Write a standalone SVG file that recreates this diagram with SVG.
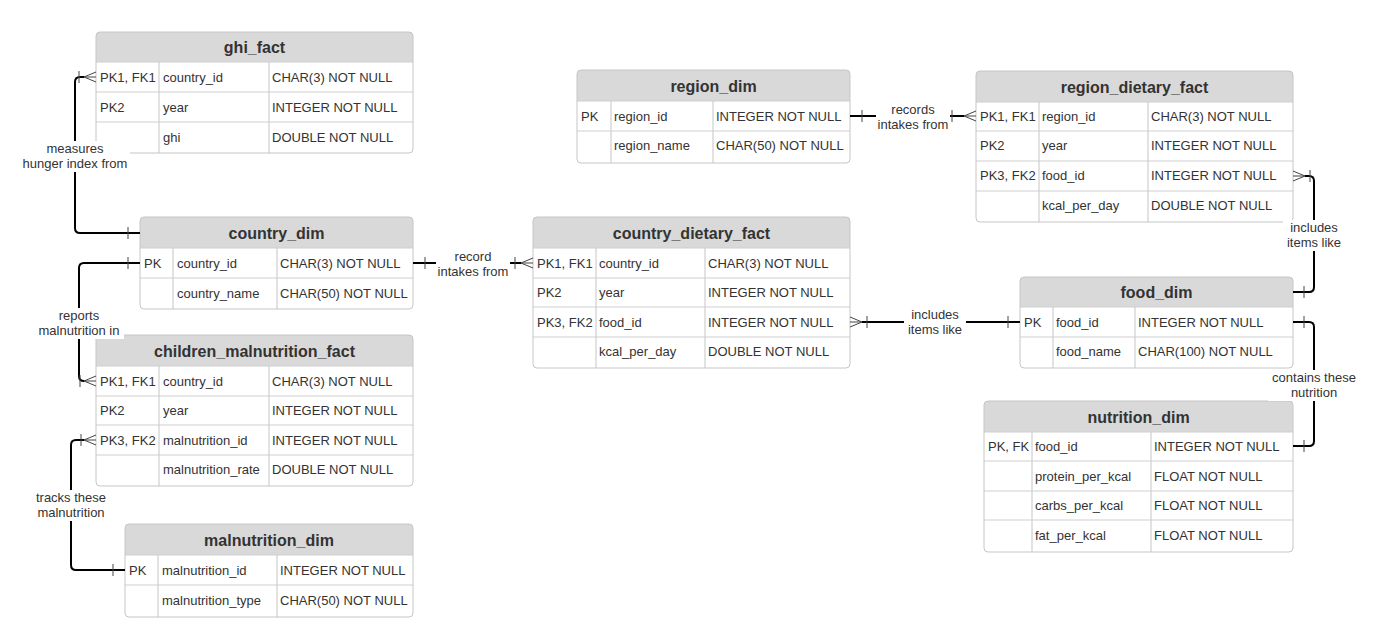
<svg xmlns="http://www.w3.org/2000/svg" width="1398" height="633" viewBox="0 0 1398 633">
<style>
.box{fill:#ffffff;stroke:none}
.hd{fill:#d9d9d9;stroke:none}
.bd{fill:none;stroke:#c6c6c6;stroke-width:1}
.ln{stroke:#cfcfcf;stroke-width:1.2}
.t{font-family:"Liberation Sans",Arial,sans-serif;font-size:13px;fill:#333333}
.h{font-family:"Liberation Sans",Arial,sans-serif;font-size:16px;font-weight:bold;fill:#333333;text-anchor:middle}
.c{fill:none;stroke:#000000;stroke-width:2}
.m{fill:none;stroke:#444444;stroke-width:1}
.lb{font-family:"Liberation Sans",Arial,sans-serif;font-size:13px;fill:#333333;text-anchor:middle}
.lbg{fill:#ffffff;stroke:none}
</style>
<rect x="0" y="0" width="1398" height="633" fill="#ffffff"/>

<!-- ghi_fact -->
<g id="ghi_fact">
  <rect class="box" x="96" y="32" width="317" height="121" rx="4"/>
  <path class="hd" d="M96,62 V36 Q96,32 100,32 H409 Q413,32 413,36 V62 Z"/>
  <line class="ln" x1="96" y1="62" x2="413" y2="62"/>
  <line class="ln" x1="96" y1="92" x2="413" y2="92"/>
  <line class="ln" x1="96" y1="122" x2="413" y2="122"/>
  <line class="ln" x1="159" y1="62" x2="159" y2="153"/>
  <line class="ln" x1="269" y1="62" x2="269" y2="153"/>
  <rect class="bd" x="96" y="32" width="317" height="121" rx="4"/>
  <text class="h" x="254.5" y="53">ghi_fact</text>
  <text class="t" x="100" y="82">PK1, FK1</text><text class="t" x="163" y="82">country_id</text><text class="t" x="272" y="82">CHAR(3) NOT NULL</text>
  <text class="t" x="100" y="112">PK2</text><text class="t" x="163" y="112">year</text><text class="t" x="272" y="112">INTEGER NOT NULL</text>
  <text class="t" x="163" y="142">ghi</text><text class="t" x="272" y="142">DOUBLE NOT NULL</text>
</g>

<!-- country_dim -->
<g id="country_dim">
  <rect class="box" x="140" y="217" width="273" height="92" rx="4"/>
  <path class="hd" d="M140,248 V221 Q140,217 144,217 H409 Q413,217 413,221 V248 Z"/>
  <line class="ln" x1="140" y1="248" x2="413" y2="248"/>
  <line class="ln" x1="140" y1="278" x2="413" y2="278"/>
  <line class="ln" x1="173" y1="248" x2="173" y2="309"/>
  <line class="ln" x1="277" y1="248" x2="277" y2="309"/>
  <rect class="bd" x="140" y="217" width="273" height="92" rx="4"/>
  <text class="h" x="276.5" y="239">country_dim</text>
  <text class="t" x="144" y="268">PK</text><text class="t" x="177" y="268">country_id</text><text class="t" x="280" y="268">CHAR(3) NOT NULL</text>
  <text class="t" x="177" y="298">country_name</text><text class="t" x="280" y="298">CHAR(50) NOT NULL</text>
</g>

<!-- children_malnutrition_fact -->
<g id="children_malnutrition_fact">
  <rect class="box" x="96" y="335" width="317" height="151" rx="4"/>
  <path class="hd" d="M96,366 V339 Q96,335 100,335 H409 Q413,335 413,339 V366 Z"/>
  <line class="ln" x1="96" y1="366" x2="413" y2="366"/>
  <line class="ln" x1="96" y1="396" x2="413" y2="396"/>
  <line class="ln" x1="96" y1="425" x2="413" y2="425"/>
  <line class="ln" x1="96" y1="455" x2="413" y2="455"/>
  <line class="ln" x1="159" y1="366" x2="159" y2="486"/>
  <line class="ln" x1="269" y1="366" x2="269" y2="486"/>
  <rect class="bd" x="96" y="335" width="317" height="151" rx="4"/>
  <text class="h" x="254.5" y="357">children_malnutrition_fact</text>
  <text class="t" x="100" y="386">PK1, FK1</text><text class="t" x="163" y="386">country_id</text><text class="t" x="272" y="386">CHAR(3) NOT NULL</text>
  <text class="t" x="100" y="415">PK2</text><text class="t" x="163" y="415">year</text><text class="t" x="272" y="415">INTEGER NOT NULL</text>
  <text class="t" x="100" y="445">PK3, FK2</text><text class="t" x="163" y="445">malnutrition_id</text><text class="t" x="272" y="445">INTEGER NOT NULL</text>
  <text class="t" x="163" y="474">malnutrition_rate</text><text class="t" x="272" y="474">DOUBLE NOT NULL</text>
</g>

<!-- malnutrition_dim -->
<g id="malnutrition_dim">
  <rect class="box" x="125" y="524" width="288" height="93" rx="4"/>
  <path class="hd" d="M125,555 V528 Q125,524 129,524 H409 Q413,524 413,528 V555 Z"/>
  <line class="ln" x1="125" y1="555" x2="413" y2="555"/>
  <line class="ln" x1="125" y1="585" x2="413" y2="585"/>
  <line class="ln" x1="158" y1="555" x2="158" y2="617"/>
  <line class="ln" x1="277" y1="555" x2="277" y2="617"/>
  <rect class="bd" x="125" y="524" width="288" height="93" rx="4"/>
  <text class="h" x="269" y="546">malnutrition_dim</text>
  <text class="t" x="129" y="575">PK</text><text class="t" x="162" y="575">malnutrition_id</text><text class="t" x="280" y="575">INTEGER NOT NULL</text>
  <text class="t" x="162" y="605">malnutrition_type</text><text class="t" x="280" y="605">CHAR(50) NOT NULL</text>
</g>

<!-- country_dietary_fact -->
<g id="country_dietary_fact">
  <rect class="box" x="533" y="217" width="317" height="151" rx="4"/>
  <path class="hd" d="M533,248 V221 Q533,217 537,217 H846 Q850,217 850,221 V248 Z"/>
  <line class="ln" x1="533" y1="248" x2="850" y2="248"/>
  <line class="ln" x1="533" y1="278" x2="850" y2="278"/>
  <line class="ln" x1="533" y1="307" x2="850" y2="307"/>
  <line class="ln" x1="533" y1="337" x2="850" y2="337"/>
  <line class="ln" x1="596" y1="248" x2="596" y2="368"/>
  <line class="ln" x1="705" y1="248" x2="705" y2="368"/>
  <rect class="bd" x="533" y="217" width="317" height="151" rx="4"/>
  <text class="h" x="691.5" y="239">country_dietary_fact</text>
  <text class="t" x="537" y="268">PK1, FK1</text><text class="t" x="599" y="268">country_id</text><text class="t" x="708" y="268">CHAR(3) NOT NULL</text>
  <text class="t" x="537" y="297">PK2</text><text class="t" x="599" y="297">year</text><text class="t" x="708" y="297">INTEGER NOT NULL</text>
  <text class="t" x="537" y="327">PK3, FK2</text><text class="t" x="599" y="327">food_id</text><text class="t" x="708" y="327">INTEGER NOT NULL</text>
  <text class="t" x="599" y="356">kcal_per_day</text><text class="t" x="708" y="356">DOUBLE NOT NULL</text>
</g>

<!-- region_dim -->
<g id="region_dim">
  <rect class="box" x="577" y="70" width="273" height="93" rx="4"/>
  <path class="hd" d="M577,101 V74 Q577,70 581,70 H846 Q850,70 850,74 V101 Z"/>
  <line class="ln" x1="577" y1="101" x2="850" y2="101"/>
  <line class="ln" x1="577" y1="131" x2="850" y2="131"/>
  <line class="ln" x1="611" y1="101" x2="611" y2="163"/>
  <line class="ln" x1="713" y1="101" x2="713" y2="163"/>
  <rect class="bd" x="577" y="70" width="273" height="93" rx="4"/>
  <text class="h" x="713.5" y="92">region_dim</text>
  <text class="t" x="581" y="121">PK</text><text class="t" x="614" y="121">region_id</text><text class="t" x="716" y="121">INTEGER NOT NULL</text>
  <text class="t" x="614" y="150">region_name</text><text class="t" x="716" y="150">CHAR(50) NOT NULL</text>
</g>

<!-- region_dietary_fact -->
<g id="region_dietary_fact">
  <rect class="box" x="976" y="71" width="317" height="151" rx="4"/>
  <path class="hd" d="M976,102 V75 Q976,71 980,71 H1289 Q1293,71 1293,75 V102 Z"/>
  <line class="ln" x1="976" y1="102" x2="1293" y2="102"/>
  <line class="ln" x1="976" y1="131" x2="1293" y2="131"/>
  <line class="ln" x1="976" y1="161" x2="1293" y2="161"/>
  <line class="ln" x1="976" y1="191" x2="1293" y2="191"/>
  <line class="ln" x1="1039" y1="102" x2="1039" y2="222"/>
  <line class="ln" x1="1148" y1="102" x2="1148" y2="222"/>
  <rect class="bd" x="976" y="71" width="317" height="151" rx="4"/>
  <text class="h" x="1134.5" y="93">region_dietary_fact</text>
  <text class="t" x="980" y="121">PK1, FK1</text><text class="t" x="1042" y="121">region_id</text><text class="t" x="1151" y="121">CHAR(3) NOT NULL</text>
  <text class="t" x="980" y="150">PK2</text><text class="t" x="1042" y="150">year</text><text class="t" x="1151" y="150">INTEGER NOT NULL</text>
  <text class="t" x="980" y="180">PK3, FK2</text><text class="t" x="1042" y="180">food_id</text><text class="t" x="1151" y="180">INTEGER NOT NULL</text>
  <text class="t" x="1042" y="210">kcal_per_day</text><text class="t" x="1151" y="210">DOUBLE NOT NULL</text>
</g>

<!-- food_dim -->
<g id="food_dim">
  <rect class="box" x="1020" y="277" width="273" height="91" rx="4"/>
  <path class="hd" d="M1020,307 V281 Q1020,277 1024,277 H1289 Q1293,277 1293,281 V307 Z"/>
  <line class="ln" x1="1020" y1="307" x2="1293" y2="307"/>
  <line class="ln" x1="1020" y1="337" x2="1293" y2="337"/>
  <line class="ln" x1="1053" y1="307" x2="1053" y2="368"/>
  <line class="ln" x1="1135" y1="307" x2="1135" y2="368"/>
  <rect class="bd" x="1020" y="277" width="273" height="91" rx="4"/>
  <text class="h" x="1156.5" y="298">food_dim</text>
  <text class="t" x="1024" y="327">PK</text><text class="t" x="1056" y="327">food_id</text><text class="t" x="1138" y="327">INTEGER NOT NULL</text>
  <text class="t" x="1056" y="356">food_name</text><text class="t" x="1138" y="356">CHAR(100) NOT NULL</text>
</g>

<!-- nutrition_dim -->
<g id="nutrition_dim">
  <rect class="box" x="984" y="401" width="309" height="151" rx="4"/>
  <path class="hd" d="M984,432 V405 Q984,401 988,401 H1289 Q1293,401 1293,405 V432 Z"/>
  <line class="ln" x1="984" y1="432" x2="1293" y2="432"/>
  <line class="ln" x1="984" y1="461" x2="1293" y2="461"/>
  <line class="ln" x1="984" y1="491" x2="1293" y2="491"/>
  <line class="ln" x1="984" y1="520" x2="1293" y2="520"/>
  <line class="ln" x1="1032" y1="432" x2="1032" y2="552"/>
  <line class="ln" x1="1151" y1="432" x2="1151" y2="552"/>
  <rect class="bd" x="984" y="401" width="309" height="151" rx="4"/>
  <text class="h" x="1138.5" y="423">nutrition_dim</text>
  <text class="t" x="988" y="451">PK, FK</text><text class="t" x="1035" y="451">food_id</text><text class="t" x="1154" y="451">INTEGER NOT NULL</text>
  <text class="t" x="1035" y="481">protein_per_kcal</text><text class="t" x="1154" y="481">FLOAT NOT NULL</text>
  <text class="t" x="1035" y="510">carbs_per_kcal</text><text class="t" x="1154" y="510">FLOAT NOT NULL</text>
  <text class="t" x="1035" y="540">fat_per_kcal</text><text class="t" x="1154" y="540">FLOAT NOT NULL</text>
</g>

<!-- connectors -->
<g id="connectors">
  <!-- ghi_fact - country_dim -->
  <path class="c" d="M140,233 H80 Q75,233 75,228 V82 Q75,77 80,77 H84"/>
  <path class="m" d="M84,77 L96,72 M84,77 L96,77 M84,77 L96,82 M79,71 V83 M128,227 V239"/>
  <rect class="lbg" x="20" y="141" width="110" height="31"/>
  <text class="lb" x="75" y="153">measures</text>
  <text class="lb" x="75" y="168">hunger index from</text>

  <!-- country_dim - children_malnutrition_fact -->
  <path class="c" d="M140,263 H84 Q79,263 79,268 V376 Q79,381 84,381"/>
  <path class="m" d="M84,381 L96,376 M84,381 L96,381 M84,381 L96,386 M80,375 V387 M128,257 V269"/>
  <rect class="lbg" x="34" y="308" width="90" height="31"/>
  <text class="lb" x="79" y="320">reports</text>
  <text class="lb" x="79" y="335">malnutrition in</text>

  <!-- children_malnutrition_fact - malnutrition_dim -->
  <path class="c" d="M84,440 H76 Q71,440 71,445 V565 Q71,570 76,570 H125"/>
  <path class="m" d="M84,440 L96,435 M84,440 L96,440 M84,440 L96,445 M81,434 V446 M113,564 V576"/>
  <rect class="lbg" x="30" y="490" width="82" height="31"/>
  <text class="lb" x="71" y="502">tracks these</text>
  <text class="lb" x="71" y="517">malnutrition</text>

  <!-- country_dim - country_dietary_fact -->
  <path class="c" d="M413,263 H521"/>
  <path class="m" d="M521,263 L533,258 M521,263 L533,263 M521,263 L533,268 M515,257 V269 M425,257 V269"/>
  <rect class="lbg" x="436" y="249" width="74" height="31"/>
  <text class="lb" x="473" y="261">record</text>
  <text class="lb" x="473" y="276">intakes from</text>

  <!-- country_dietary_fact - food_dim -->
  <path class="c" d="M862,322 H1020"/>
  <path class="m" d="M862,322 L850,317 M862,322 L850,322 M862,322 L850,327 M867,316 V328 M1008,316 V328"/>
  <rect class="lbg" x="904" y="307" width="62" height="31"/>
  <text class="lb" x="935" y="319">includes</text>
  <text class="lb" x="935" y="334">items like</text>

  <!-- region_dim - region_dietary_fact -->
  <path class="c" d="M850,116 H964"/>
  <path class="m" d="M964,116 L976,111 M964,116 L976,116 M964,116 L976,121 M952,110 V122 M862,110 V122"/>
  <rect class="lbg" x="876" y="102" width="74" height="31"/>
  <text class="lb" x="913" y="114">records</text>
  <text class="lb" x="913" y="129">intakes from</text>

  <!-- region_dietary_fact - food_dim -->
  <path class="c" d="M1305,176 H1309 Q1314,176 1314,181 V287 Q1314,292 1309,292 H1293"/>
  <path class="m" d="M1305,176 L1293,171 M1305,176 L1293,176 M1305,176 L1293,181 M1310,170 V182 M1304,286 V298"/>
  <rect class="lbg" x="1283" y="220" width="62" height="31"/>
  <text class="lb" x="1314" y="232">includes</text>
  <text class="lb" x="1314" y="247">items like</text>

  <!-- food_dim - nutrition_dim -->
  <path class="c" d="M1293,322 H1309 Q1314,322 1314,327 V441 Q1314,446 1309,446 H1293"/>
  <path class="m" d="M1304,316 V328 M1304,440 V452"/>
  <rect class="lbg" x="1268" y="370" width="92" height="31"/>
  <text class="lb" x="1314" y="382">contains these</text>
  <text class="lb" x="1314" y="397">nutrition</text>
</g>
</svg>
